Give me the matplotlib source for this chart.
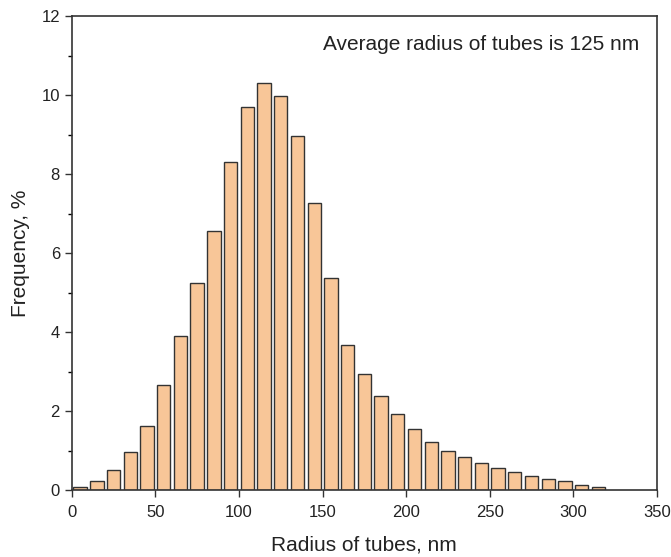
import numpy as np
import matplotlib.pyplot as plt
from matplotlib.ticker import MultipleLocator

plt.rcParams['font.family'] = ['Liberation Sans', 'DejaVu Sans']

# bin centres (nm) and frequency (%)
radius = [5, 15, 25, 35, 45, 55, 65, 75, 85, 95, 105, 115, 125, 135, 145, 155,
          165, 175, 185, 195, 205, 215, 225, 235, 245, 255, 265, 275, 285, 295, 305, 315]
freq = [0.08, 0.23, 0.50, 0.97, 1.62, 2.65, 3.90, 5.25, 6.55, 8.32, 9.70, 10.30,
        9.98, 8.97, 7.27, 5.38, 3.68, 2.93, 2.38, 1.94, 1.55, 1.22, 1.00, 0.83,
        0.70, 0.55, 0.45, 0.37, 0.28, 0.22, 0.13, 0.08]

fig = plt.figure(figsize=(6.71, 5.57), dpi=100)
ax = fig.add_axes([0.107, 0.120, 0.872, 0.851])

ax.bar(radius, freq, width=8, color='#F8C698', edgecolor='#333333', linewidth=1.0)

ax.set_xlim(0, 350)
ax.set_ylim(0, 12)
ax.xaxis.set_major_locator(MultipleLocator(50))
ax.yaxis.set_major_locator(MultipleLocator(2))
ax.yaxis.set_minor_locator(MultipleLocator(1))
ax.tick_params(axis='both', labelsize=12, direction='out', length=5, width=1,
               colors='#333333', labelcolor='#222222')
ax.tick_params(axis='x', pad=6)
ax.tick_params(axis='y', which='minor', length=3, width=1)
for s in ax.spines.values():
    s.set_color('#333333')
    s.set_linewidth(1.2)

ax.set_xlabel('Radius of tubes, nm', fontsize=15, labelpad=11, color='#222222')
ax.set_ylabel('Frequency, %', fontsize=15, labelpad=8, color='#222222')
ax.text(0.97, 0.94, 'Average radius of tubes is 125 nm', transform=ax.transAxes,
        ha='right', va='center', fontsize=15, color='#222222')

fig.savefig('out.png', dpi=100)
